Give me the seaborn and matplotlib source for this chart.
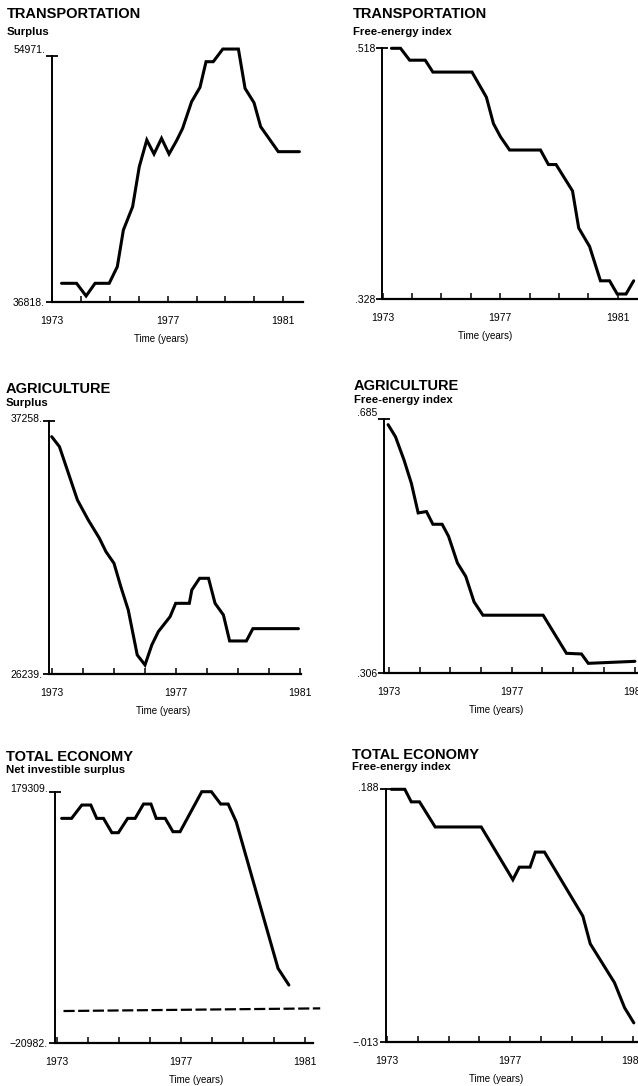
## Surplus and free-energy index by sector, 1973-1981

import numpy as np
import pandas as pd
import matplotlib
matplotlib.use("Agg")
import matplotlib.pyplot as plt
import seaborn as sns

sns.set_style("white")
# set the font after seaborn, otherwise it gets reset
plt.rcParams['font.family'] = ['Liberation Sans', 'DejaVu Sans']
plt.rcParams['text.color'] = 'black'
plt.rcParams['xtick.color'] = 'black'
plt.rcParams['ytick.color'] = 'black'

W, H = 638, 1086

# --- data ---
# transportation, surplus
trans_surplus_t = [1973.33, 1973.85, 1974.18, 1974.49, 1974.98, 1975.26, 1975.47, 1975.79,
                   1976.02, 1976.28, 1976.53, 1976.79, 1977.05, 1977.31, 1977.52, 1977.83,
                   1978.12, 1978.33, 1978.58, 1978.91, 1979.45, 1979.68, 1979.99, 1980.22,
                   1980.83, 1981.56]
trans_surplus = [38216, 38216, 37284, 38216, 38216, 39443, 42141, 43858,
                 46802, 48764, 47734, 48887, 47734, 48715, 49623, 51585,
                 52640, 54529, 54529, 55461, 55461, 52566, 51511, 49745,
                 47906, 47906]

# transportation, free-energy index
trans_energy_t = [1973.30, 1973.61, 1973.92, 1974.45, 1974.71, 1976.04, 1976.53, 1976.77,
                  1977.01, 1977.32, 1978.37, 1978.64, 1978.90, 1979.46, 1979.67, 1980.04,
                  1980.41, 1980.72, 1980.98, 1981.28, 1981.54]
trans_energy = [0.518, 0.518, 0.509, 0.509, 0.500, 0.500, 0.481, 0.461,
                0.451, 0.441, 0.441, 0.430, 0.430, 0.410, 0.382, 0.368,
                0.342, 0.342, 0.332, 0.332, 0.342]

# agriculture, surplus
agri_surplus_t = [1972.98, 1973.23, 1973.52, 1973.81, 1974.16, 1974.52, 1974.73, 1974.99,
                  1975.21, 1975.45, 1975.74, 1975.99, 1976.21, 1976.42, 1976.80, 1976.98,
                  1977.42, 1977.50, 1977.75, 1978.04, 1978.25, 1978.52, 1978.72, 1979.26,
                  1979.47, 1980.94]
agri_surplus = [36577, 36142, 34982, 33822, 32952, 32155, 31575, 31067,
                30052, 29037, 27080, 26645, 27515, 28095, 28747, 29327,
                29327, 29907, 30415, 30415, 29327, 28820, 27689, 27689,
                28225, 28225]

# agriculture, free-energy index
agri_energy_t = [1972.97, 1973.21, 1973.49, 1973.73, 1973.95, 1974.22, 1974.43, 1974.73,
                 1974.94, 1975.23, 1975.50, 1975.77, 1976.06, 1978.02, 1978.78, 1979.27,
                 1979.49, 1981.01]
agri_energy = [0.677, 0.659, 0.624, 0.589, 0.545, 0.547, 0.528, 0.528,
               0.510, 0.470, 0.450, 0.412, 0.392, 0.392, 0.335, 0.334,
               0.320, 0.323]

# total economy, net investible surplus
total_surplus_t = [1973.16, 1973.48, 1973.81, 1974.10, 1974.29, 1974.51, 1974.78, 1974.99,
                   1975.29, 1975.53, 1975.80, 1976.04, 1976.21, 1976.50, 1976.75, 1976.98,
                   1977.68, 1977.99, 1978.29, 1978.53, 1978.79, 1980.14, 1980.49]
total_surplus = [158029, 158029, 168669, 168669, 158029, 158029, 146592, 146592,
                 158029, 158029, 169467, 169467, 158029, 158029, 147390, 147390,
                 179309, 179309, 169467, 169467, 155369, 38334, 25034]
# dashed reference line
total_ref_t = [1973.22, 1981.50]
total_ref = [4287, 6415]

# total economy, free-energy index
total_energy_t = [1973.13, 1973.57, 1973.78, 1974.05, 1974.56, 1976.06, 1977.09, 1977.30,
                  1977.65, 1977.82, 1978.12, 1979.37, 1979.61, 1980.40, 1980.73, 1981.03]
total_energy = [0.188, 0.188, 0.178, 0.178, 0.158, 0.158, 0.116, 0.126,
                0.126, 0.138, 0.138, 0.087, 0.065, 0.034, 0.014, 0.002]

titles = ["TRANSPORTATION", "TRANSPORTATION", "AGRICULTURE", "AGRICULTURE",
          "TOTAL ECONOMY", "TOTAL ECONOMY"]
subtitles = ["Surplus", "Free-energy index", "Surplus", "Free-energy index",
             "Net investible surplus", "Free-energy index"]
y_ranges = [(36818, 54971), (0.328, 0.518), (26239, 37258), (0.306, 0.685),
            (-20982, 179309), (-0.013, 0.188)]
y_labels = [("36818.", "54971."), (".328", ".518"), ("26239.", "37258."), (".306", ".685"),
            ("\u221220982.", "179309."), ("\u2212.013", ".188")]
series = [(trans_surplus_t, trans_surplus), (trans_energy_t, trans_energy),
          (agri_surplus_t, agri_surplus), (agri_energy_t, agri_energy),
          (total_surplus_t, total_surplus), (total_energy_t, total_energy)]

# pixel layout: left spine, x of 1973, px per year, right end, top, bottom
boxes = [(52.0, 52.0, 28.9, 303.0, 55.7, 302.3),
         (382.0, 382.6, 29.4, 638.0, 48.3, 299.3),
         (49.3, 52.3, 31.0, 300.7, 421.0, 674.3),
         (383.7, 389.0, 30.7, 638.0, 419.3, 672.7),
         (55.0, 56.7, 31.0, 313.0, 791.7, 1042.7),
         (385.7, 387.3, 30.7, 638.0, 789.3, 1041.7)]
# title baseline x, y ; subtitle baseline y ; "Time (years)" centre x
text_pos = [(7, 18, 35, 161), (353, 18, 35, 485), (6, 393, 405.5, 163),
            (354, 390, 402.5, 496), (6, 761, 773, 196), (352, 759, 770, 496)]
# how far the top y label sits above its tick, in px
top_lift = [7, 0, 3, 7, 4, 2]

fig = plt.figure(figsize=(W / 100, H / 100), dpi=100)
fig.patch.set_facecolor("white")

for i in range(6):
    left, x73, ppy, right, top, bottom = boxes[i]
    ax = fig.add_axes([left / W, 1 - bottom / H, (right - left) / W, (bottom - top) / H])
    t, v = series[i]
    df = pd.DataFrame({"year": t, "value": v})
    sns.lineplot(data=df, x="year", y="value", ax=ax, color="black", linewidth=2.2,
                 estimator=None, sort=False)
    if i == 4:
        ref = pd.DataFrame({"year": total_ref_t, "value": total_ref})
        sns.lineplot(data=ref, x="year", y="value", ax=ax, color="black", linewidth=1.6,
                     linestyle=(0, (5, 1.6)), estimator=None, sort=False)
    for ln in ax.lines:
        ln.set_clip_on(False)
        ln.set_solid_joinstyle("miter")

    ax.set_xlim(1973 - (x73 - left) / ppy, 1973 + (right - x73) / ppy)
    ax.set_ylim(*y_ranges[i])
    ax.set_yticks(list(y_ranges[i]))
    ax.set_yticklabels(y_labels[i], fontsize=7.5)
    years = list(range(1973, 1982))
    ax.set_xticks(years)
    ax.set_xticklabels([str(y) if y in (1973, 1977, 1981) else "" for y in years], fontsize=7.5)
    ax.tick_params(axis="y", left=True, direction="inout", length=8, width=1.3, pad=1)
    ax.tick_params(axis="x", bottom=True, direction="in", length=4, width=1.1, pad=10)
    # nudge the top label up a little, as in the original
    lab = ax.get_yticklabels()[1]
    lab.set_transform(lab.get_transform() +
                      matplotlib.transforms.ScaledTranslation(0, top_lift[i] / 100, fig.dpi_scale_trans))
    ax.set_xlabel("")
    ax.set_ylabel("")
    sns.despine(ax=ax)
    ax.spines["left"].set_linewidth(1.4)
    ax.spines["bottom"].set_linewidth(1.6)
    ax.spines["left"].set_color("black")
    ax.spines["bottom"].set_color("black")
    ax.patch.set_alpha(0)

    tx, ty, sy, lx = text_pos[i]
    fig.text(tx / W, 1 - ty / H, titles[i], fontsize=10.5, fontweight="bold", va="baseline")
    fig.text(tx / W, 1 - sy / H, subtitles[i], fontsize=8.2, fontweight="bold", va="baseline")
    fig.text(lx / W, 1 - (bottom + 37) / H, "Time (years)", fontsize=7, ha="center", va="center")

fig.savefig("out.png", dpi=100, facecolor="white")
